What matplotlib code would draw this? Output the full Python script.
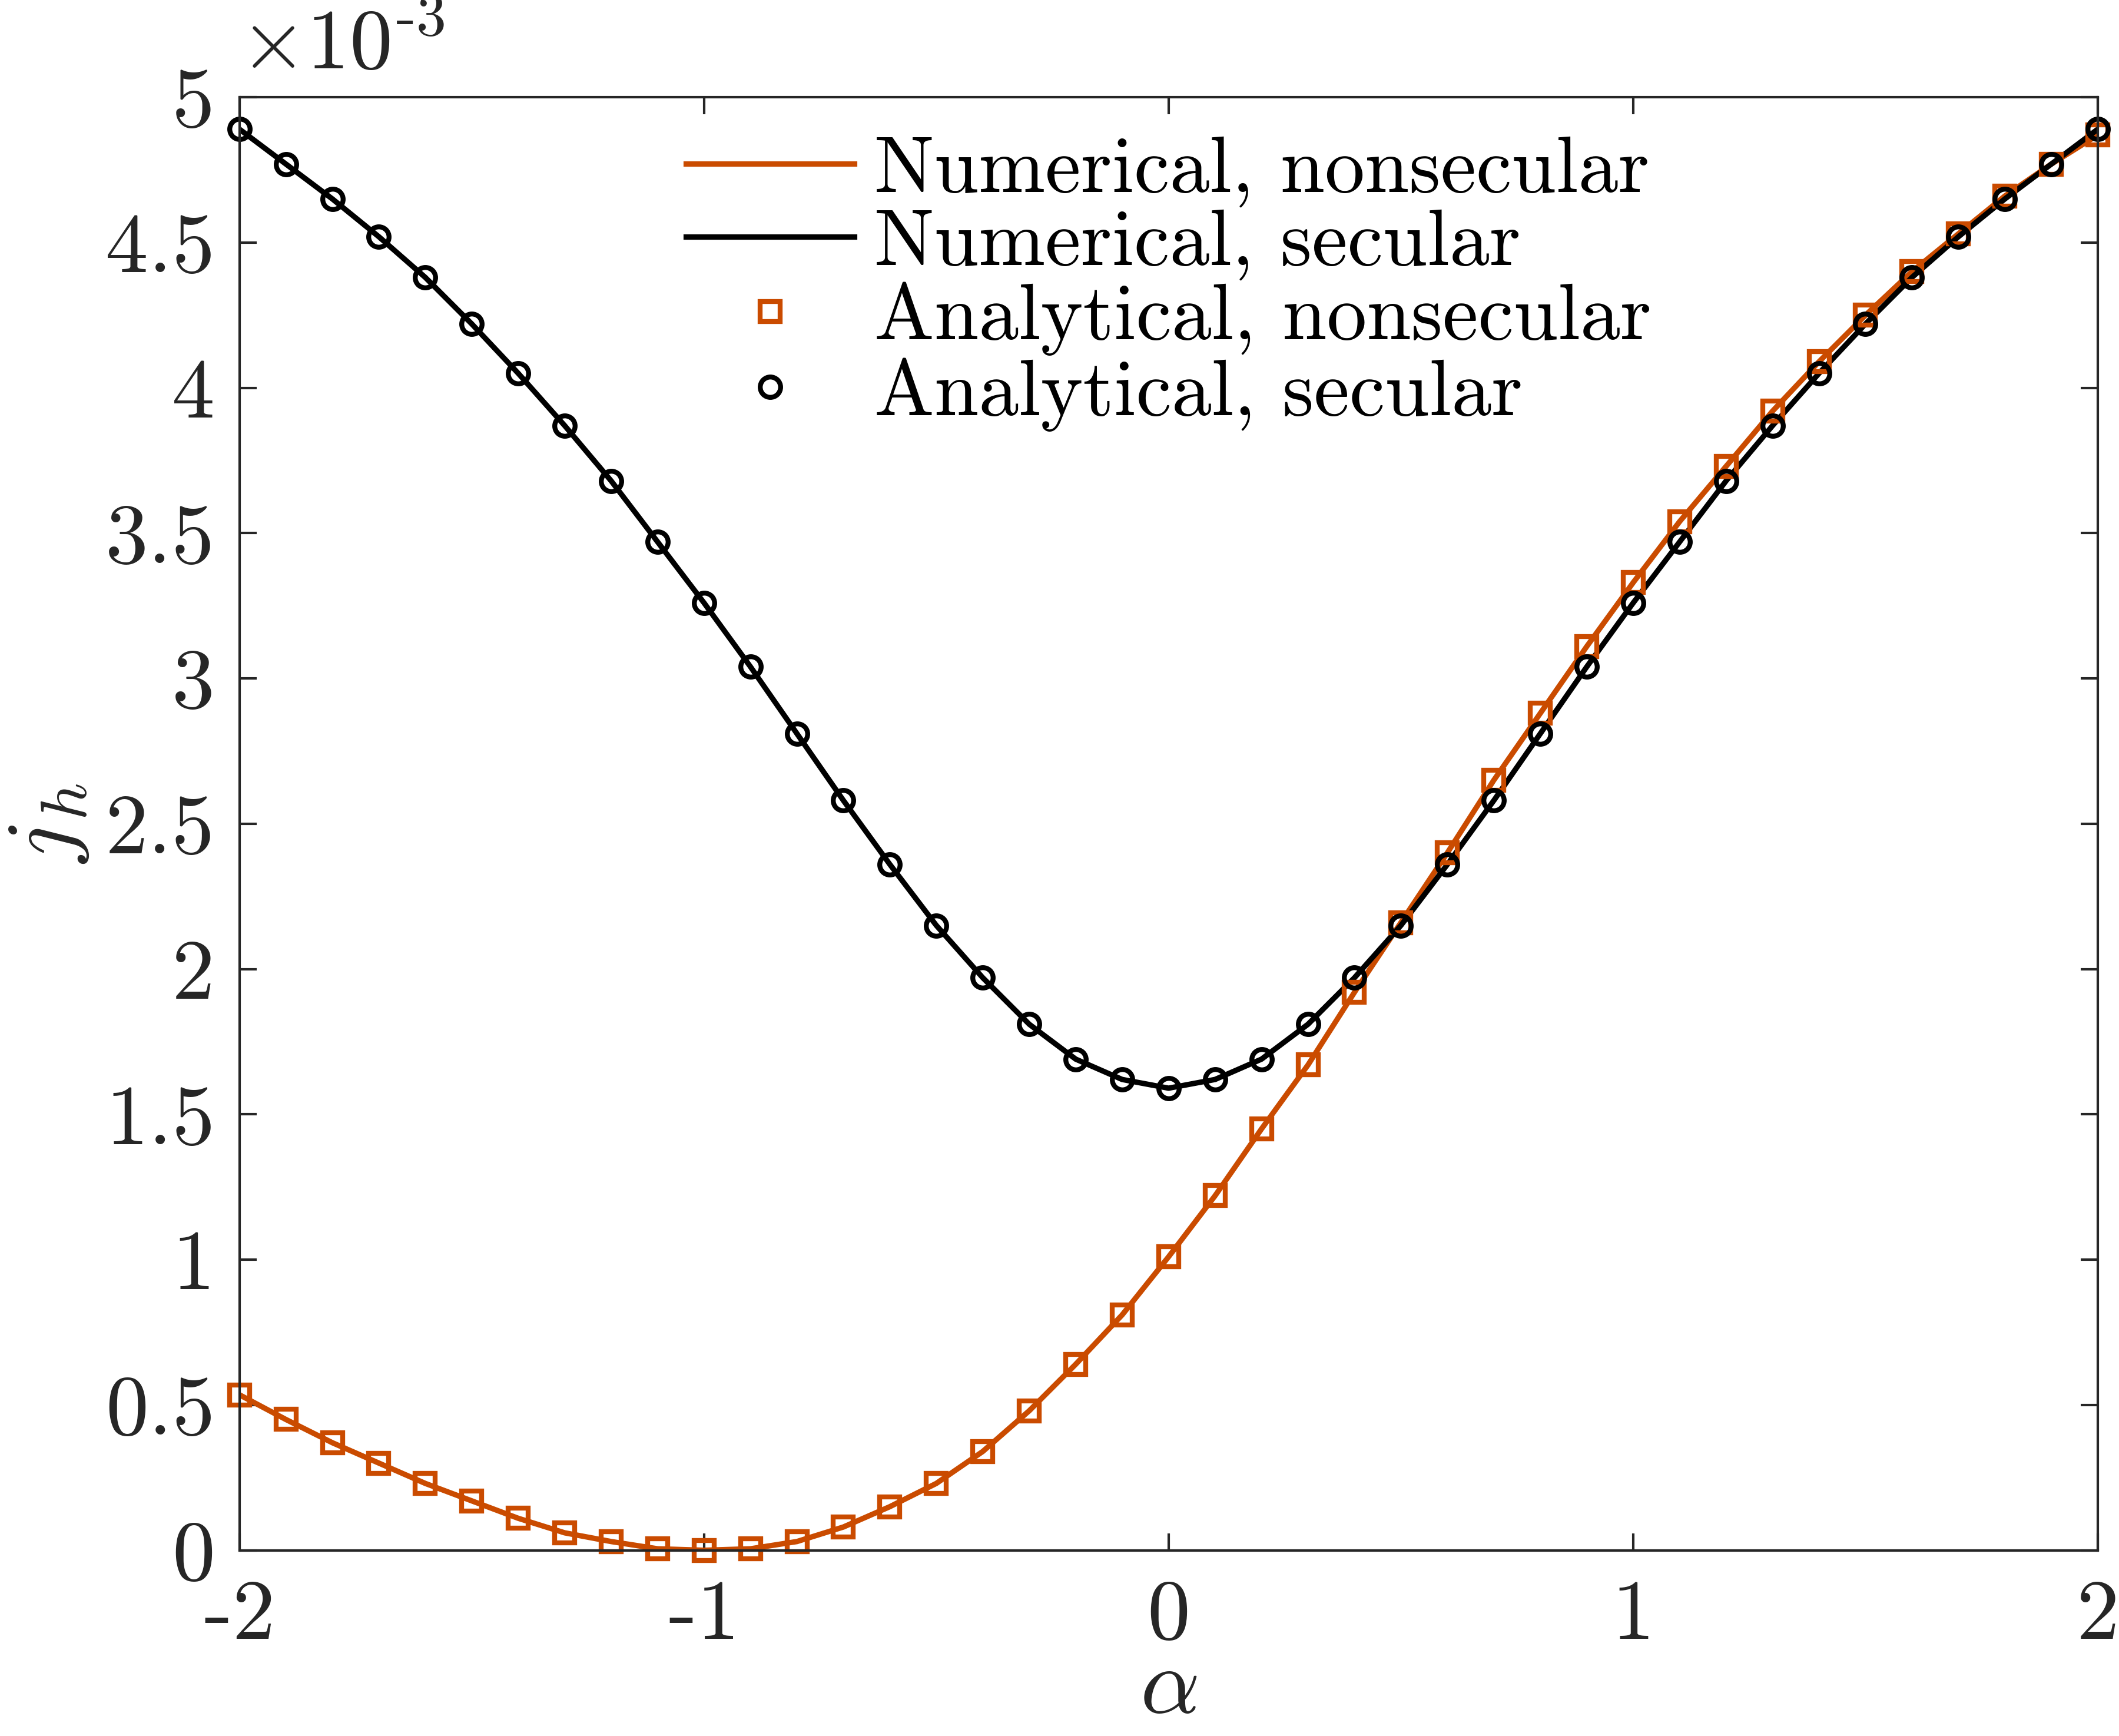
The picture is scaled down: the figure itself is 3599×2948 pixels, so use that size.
import numpy as np
import matplotlib
matplotlib.use('Agg')
import matplotlib.pyplot as plt

plt.rcParams['font.family'] = ['cmr10', 'DejaVu Serif']
plt.rcParams['mathtext.fontset'] = 'cm'
plt.rcParams['axes.unicode_minus'] = False
plt.rcParams['axes.formatter.use_mathtext'] = True

# alpha grid and j_h values (units of 1e-3)
alpha = np.round(np.arange(-2.0, 2.0001, 0.1), 1)

j_secular = np.array([
    4.89, 4.77, 4.65, 4.52, 4.38, 4.22, 4.05, 3.87, 3.68, 3.47,
    3.26, 3.04, 2.81, 2.58, 2.36, 2.15, 1.97, 1.81, 1.69, 1.62,
    1.59,
    1.62, 1.69, 1.81, 1.97, 2.15, 2.36, 2.58, 2.81, 3.04, 3.26,
    3.47, 3.68, 3.87, 4.05, 4.22, 4.38, 4.52, 4.65, 4.77, 4.89])

j_nonsecular = np.array([
    0.535, 0.45, 0.37, 0.30, 0.23, 0.17, 0.11, 0.06, 0.03, 0.005,
    0.0, 0.005, 0.03, 0.08, 0.15, 0.23, 0.34, 0.48, 0.64, 0.81,
    1.01,
    1.22, 1.45, 1.67, 1.92, 2.16, 2.40, 2.65, 2.88, 3.11, 3.33,
    3.54, 3.73, 3.92, 4.09, 4.25, 4.40, 4.53, 4.66, 4.77, 4.87])

orange = '#CA4B00'
axcol = '#262626'

fig = plt.figure(figsize=(3599 / 300, 2948 / 300), dpi=300)
ax = fig.add_axes([0.113, 0.107, 0.877, 0.837])

ax.plot(alpha, j_nonsecular, '-', color=orange, lw=2.2, label='Numerical, nonsecular')
ax.plot(alpha, j_secular, '-', color='black', lw=2.2, label='Numerical, secular')
ax.plot(alpha, j_nonsecular, 's', color=orange, mfc='none', mew=2.0, ms=8.3,
        label='Analytical, nonsecular', clip_on=False)
ax.plot(alpha, j_secular, 'o', color='black', mfc='none', mew=2.0, ms=8.3,
        label='Analytical, secular', clip_on=False)

ax.set_xlim(-2, 2)
ax.set_ylim(0, 5)
ax.set_xticks([-2, -1, 0, 1, 2])
ax.set_yticks(np.arange(0, 5.01, 0.5))
ax.set_yticklabels(['0', '0.5', '1', '1.5', '2', '2.5', '3', '3.5', '4', '4.5', '5'])
ax.set_xticklabels(['-2', '-1', '0', '1', '2'])

for s in ax.spines.values():
    s.set_linewidth(1.0)
    s.set_color(axcol)
ax.tick_params(direction='in', top=True, right=True, length=7, width=1.0,
               color=axcol, labelcolor=axcol, labelsize=35)
ax.tick_params(axis='x', pad=12)
ax.tick_params(axis='y', pad=10)

ax.set_xlabel(r'$\alpha$', fontsize=38, color=axcol, labelpad=-3)
ax.set_ylabel(r'$\dot{j}_h$', fontsize=38, color=axcol, labelpad=6)

ax.text(0.0, 1.008, r'$\times10^{\text{-3}}$', transform=ax.transAxes,
        fontsize=35, color=axcol, ha='left', va='bottom')

leg = ax.legend(loc='upper center', bbox_to_anchor=(0.5, 1.012), frameon=False,
                fontsize=32.6, handlelength=2.1, handletextpad=0.25,
                labelspacing=0.02, borderaxespad=0.3)

fig.savefig('out.png', dpi=300)
